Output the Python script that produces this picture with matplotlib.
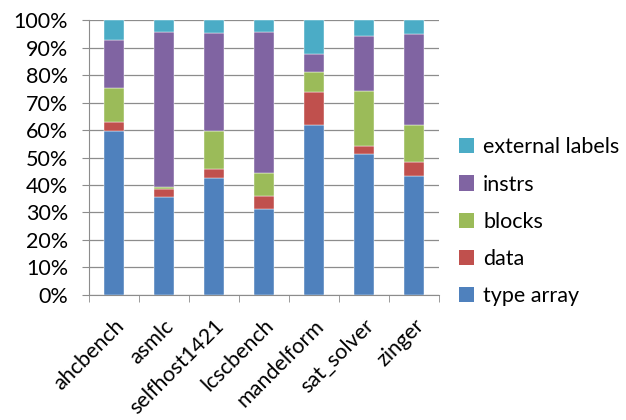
import matplotlib.pyplot as plt
import numpy as np
from matplotlib.patches import Patch

plt.rcParams['font.family'] = ['Lato', 'DejaVu Sans']

benchmarks = ['ahcbench', 'asmlc', 'selfhost1421', 'lcscbench', 'mandelform', 'sat_solver', 'zinger']
type_array = [59.6, 35.6, 42.7, 31.3, 61.9, 51.4, 43.2]
data = [3.4, 3.1, 3.2, 4.8, 12.0, 2.8, 5.3]
blocks = [12.2, 0.5, 13.7, 8.4, 7.3, 20.0, 13.2]
instrs = [17.6, 56.6, 35.8, 51.1, 6.6, 20.2, 33.3]
external_labels = [7.2, 4.2, 4.6, 4.4, 12.2, 5.6, 5.0]

series = [('type array', type_array, '#4F81BD'),
          ('data', data, '#C0504D'),
          ('blocks', blocks, '#9BBB59'),
          ('instrs', instrs, '#8064A2'),
          ('external labels', external_labels, '#4BACC6')]

fig = plt.figure(figsize=(6.26, 4.2), dpi=100)
ax = fig.add_axes([0.142, 0.298, 0.559, 0.654])

x = np.arange(len(benchmarks))
bottom = np.zeros(len(benchmarks))
for name, vals, col in series:
    vals = np.array(vals)
    ax.bar(x, vals, 0.4, bottom=bottom, color=col, edgecolor='white', linewidth=0.3, zorder=3)
    bottom += vals

fs = 15.5
ax.set_xlim(-0.5, len(benchmarks) - 0.5)
ax.set_ylim(0, 100)
ax.set_yticks(np.arange(0, 101, 10))
ax.set_yticklabels(['%d%%' % v for v in range(0, 101, 10)], fontsize=fs)
ax.yaxis.grid(True, color='#8c8c8c', linewidth=0.9, zorder=0)
ax.set_xticks(x)
ax.set_xticklabels(benchmarks, rotation=45, ha='right', rotation_mode='anchor', fontsize=fs)
ax.set_xticks(np.arange(-0.5, len(benchmarks)), minor=True)
ax.tick_params(axis='x', which='major', length=0, pad=15)
ax.tick_params(axis='x', which='minor', length=5, color='#8c8c8c')
ax.tick_params(axis='y', length=5, color='#8c8c8c', pad=10)
for s in ['top', 'right']:
    ax.spines[s].set_visible(False)
for s in ['left', 'bottom']:
    ax.spines[s].set_color('#8c8c8c')

handles = [Patch(facecolor=c, label=n) for n, v, c in series[::-1]]
fig.legend(handles=handles, loc='center left', bbox_to_anchor=(0.72, 0.472),
           frameon=False, fontsize=fs, handlelength=0.7, handleheight=0.7,
           handletextpad=0.4, labelspacing=0.8, borderaxespad=0)

fig.savefig('out.png', dpi=100)
